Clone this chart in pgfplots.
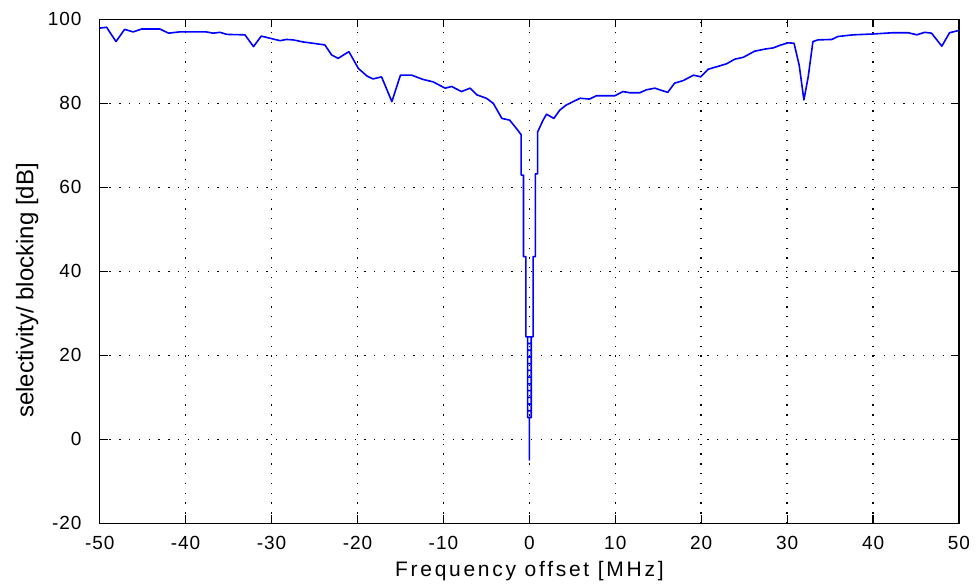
\documentclass[border=0pt]{standalone}
\usepackage{fontspec}
\setmainfont{Liberation Sans}
\newfontfamily\tickfont[LetterSpace=5]{Liberation Sans}
\newfontfamily\labfont[LetterSpace=13]{Liberation Sans}
\usepackage{pgfplots}
\pgfplotsset{compat=1.18}
\begin{document}
\begin{tikzpicture}
\begin{axis}[
  at={(0pt,0pt)}, anchor=south west,
  scale only axis, width=859.3pt, height=504pt,
  xmin=-50, xmax=50, ymin=-20, ymax=100,
  xtick={-50,-40,...,50}, ytick={-20,0,...,100},
  tick align=inside, major tick length=8pt,
  axis line style={line width=1.2pt},
  every tick/.style={black, line width=1.2pt},
  grid=major,
  major grid style={black, line width=1.5pt, dash pattern=on 1.3pt off 8.5pt},
  /pgf/number format/assume math mode=true,
  tick label style={font=\tickfont\fontsize{19}{19}\selectfont},
  xticklabel style={inner sep=0pt, anchor=north, yshift=-12.7pt},
  yticklabel style={inner sep=0pt, anchor=east, xshift=-18pt},
  xlabel={Frequency offset [MHz]},
  ylabel={selectivity/ blocking [dB]},
  xlabel style={font=\labfont\fontsize{21}{21}\selectfont, inner sep=0pt, anchor=base, at={(axis description cs:0.5,0)}, yshift=-53.4pt},
  ylabel style={font=\fontsize{24}{24}\selectfont, inner sep=0pt, anchor=base, at={(axis description cs:0,0.462)}, yshift=66.4pt},
  clip=false,
]
\addplot[color={rgb,255:red,0;green,0;blue,255}, line width=1.6pt, line join=round] coordinates {
(-50,97.9) (-49.2,98.1) (-48.1,94.7) (-47.1,97.6) (-46.1,97.0) (-45.1,97.7)
(-43.0,97.7) (-42.0,96.7) (-40.7,97.0) (-37.6,97.0) (-36.8,96.7) (-36.0,96.9)
(-35.2,96.4) (-33.1,96.3) (-32.1,93.5) (-31.2,96.0) (-30.4,95.6) (-29.0,94.9)
(-28.3,95.2) (-27.5,95.1) (-26.3,94.6) (-25.2,94.3) (-23.8,93.9) (-23.0,91.5)
(-22.25,90.7) (-21.0,92.3) (-19.9,88.3) (-18.9,86.5) (-18.2,85.8) (-17.2,86.3)
(-16.0,80.4) (-15.0,86.7) (-13.7,86.7) (-12.4,85.7) (-11.2,85.1) (-9.8,83.6)
(-9.05,84.0) (-7.9,82.8) (-6.9,83.6) (-6.1,82.0) (-5.0,81.2) (-4.2,80.0)
(-3.2,76.4) (-2.3,76.0) (-1.5,74.0) (-0.95,72.5)
(-0.95,62.9) (-0.68,62.9) (-0.68,43.5) (-0.4,43.5) (-0.4,24.4) (-0.2,24.4)
(-0.2,5.2) (0,5.2) (0,-4.9) (0,5.2) (0.22,5.2)
(0.22,6.8) (-0.2,6.8) (-0.2,8.4) (0.22,8.4) (0.22,10.0) (-0.2,10.0)
(-0.2,11.6) (0.22,11.6) (0.22,13.2) (-0.2,13.2) (-0.2,14.8) (0.22,14.8)
(0.22,16.4) (-0.2,16.4) (-0.2,18.0) (0.22,18.0) (0.22,19.6) (-0.2,19.6)
(-0.2,21.2) (0.22,21.2) (0.22,22.8) (-0.2,22.8) (-0.2,24.4) (0.22,24.4)
(0.22,5.2) (0.22,24.4)
(0.43,24.4) (0.43,43.5) (0.7,43.5) (0.7,63.2) (0.97,63.2) (0.97,73.2)
(1.6,76.0) (2.0,77.4) (2.85,76.4) (3.55,78.4) (4.3,79.6) (5.1,80.4)
(5.9,81.2) (7.0,81.0) (7.8,81.8) (9.95,81.8) (10.9,82.8) (11.7,82.5)
(12.85,82.5) (13.6,83.2) (14.6,83.6) (16.1,82.6) (16.9,84.8) (17.9,85.4)
(19.1,86.7) (19.95,86.3) (20.8,88.1) (21.8,88.7) (22.95,89.4) (23.9,90.5)
(24.9,90.95) (26.2,92.4) (27.4,92.9) (28.4,93.2) (29.15,93.8) (30.1,94.4)
(30.8,94.3) (31.4,89.1) (31.95,80.8) (32.45,86.3) (33.0,94.7) (33.6,95.1)
(35.2,95.2) (35.9,95.9) (37.7,96.3) (40.0,96.5) (42.3,96.8) (44.1,96.8)
(45.1,96.3) (46.0,96.9) (46.8,96.7) (48.0,93.6) (48.9,96.8) (49.9,97.3) (50,97.3)
};
\end{axis}
\pgfresetboundingbox
\path (-99.7pt,-62.7pt) rectangle (876.3pt,523.3pt);
\end{tikzpicture}
\end{document}
